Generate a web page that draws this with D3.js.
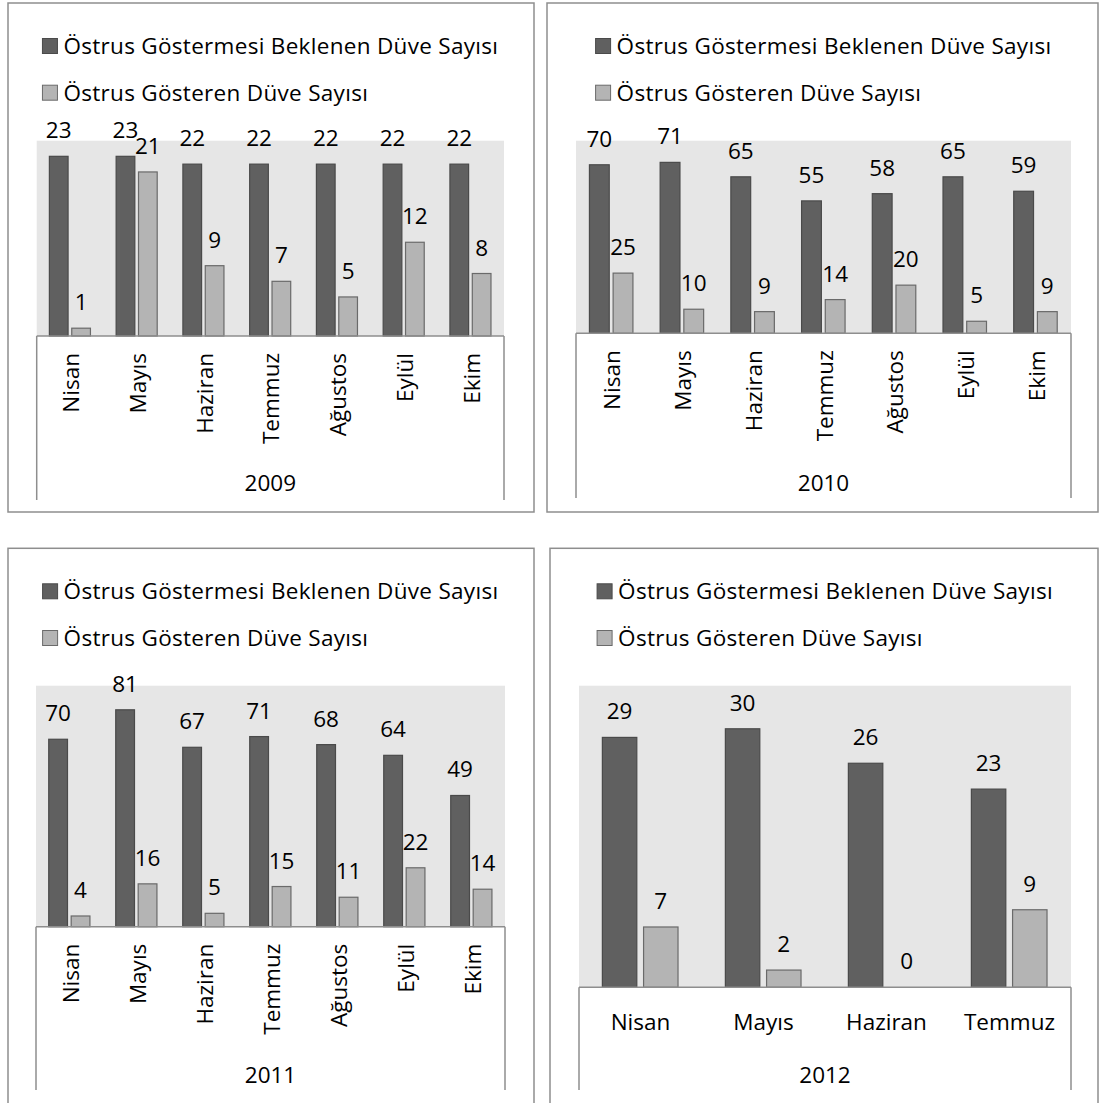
<!DOCTYPE html>
<html>
<head>
<meta charset="utf-8">
<script src="https://cdn.jsdelivr.net/npm/d3@7"></script>
<style>
    html, body { margin: 0; padding: 0; background: #fff; }
    svg { display: block; font-family: 'Open Sans', 'Noto Sans', sans-serif; }
    .lbl { font-size: 22.5px; fill: #000; }
</style>
</head>
<body>
<svg id="chart" width="1101" height="1103"></svg>
<script>
// === DATA ===

const SERIES = ['Östrus Göstermesi Beklenen Düve Sayısı', 'Östrus Gösteren Düve Sayısı'];

const MONTHS_7 = ['Nisan', 'Mayıs', 'Haziran', 'Temmuz', 'Ağustos', 'Eylül', 'Ekim'];
const MONTHS_4 = ['Nisan', 'Mayıs', 'Haziran', 'Temmuz'];

const EXPECTED_2009 = [23, 23, 22, 22, 22, 22, 22];
const SHOWN_2009    = [1, 21, 9, 7, 5, 12, 8];

const EXPECTED_2010 = [70, 71, 65, 55, 58, 65, 59];
const SHOWN_2010    = [25, 10, 9, 14, 20, 5, 9];

const EXPECTED_2011 = [70, 81, 67, 71, 68, 64, 49];
const SHOWN_2011    = [4, 16, 5, 15, 11, 22, 14];

const EXPECTED_2012 = [29, 30, 26, 23];
const SHOWN_2012    = [7, 2, 0, 9];

// === STYLE ===

const DARK = '#606060', DARK_STROKE = '#4a4a4a';
const LIGHT = '#b4b4b4', LIGHT_STROKE = '#6a6a6a';
const PLOT_BG = '#e6e6e6';
const LINE = '#8e8e8e';

// === PANEL LAYOUT ===

const panels = [
    { year: '2009', months: MONTHS_7, expected: EXPECTED_2009, shown: SHOWN_2009, yMax: 25,
      box: [8, 3, 534, 512], plot: [36.7, 504, 140.7, 336], axisBottom: 500, yearY: 483, rotated: true },
    { year: '2010', months: MONTHS_7, expected: EXPECTED_2010, shown: SHOWN_2010, yMax: 80,
      box: [547, 3, 1098, 512], plot: [576, 1071, 140.7, 333.3], axisBottom: 498, yearY: 483, rotated: true },
    { year: '2011', months: MONTHS_7, expected: EXPECTED_2011, shown: SHOWN_2011, yMax: 90,
      box: [8, 548.3, 534, 1120], plot: [36, 505, 685.7, 926.7], axisBottom: 1090, yearY: 1075, rotated: true },
    { year: '2012', months: MONTHS_4, expected: EXPECTED_2012, shown: SHOWN_2012, yMax: 35,
      box: [550, 548.3, 1098, 1120], plot: [579, 1071, 685.7, 987.3], axisBottom: 1090, yearY: 1075, rotated: false }
];

const svg = d3.select('#chart');

panels.forEach(drawPanel);

function drawPanel(p) {
    const [bx0, by0, bx1, by1] = p.box;
    const [px0, px1, ptop, pbase] = p.plot;
    const g = svg.append('g');

    // outer frame
    g.append('rect')
        .attr('x', bx0).attr('y', by0)
        .attr('width', bx1 - bx0).attr('height', by1 - by0)
        .attr('fill', '#fff').attr('stroke', LINE).attr('stroke-width', 1.5);

    // legend, centred over the plot
    const legend = g.append('g');
    const rows = [by0 + 43, by0 + 89.7];
    SERIES.forEach((name, i) => {
        legend.append('rect')
            .attr('x', 0).attr('y', rows[i] - 7.5)
            .attr('width', 15).attr('height', 15)
            .attr('fill', i === 0 ? DARK : LIGHT)
            .attr('stroke', i === 0 ? DARK_STROKE : LIGHT_STROKE);
        legend.append('text')
            .attr('class', 'lbl')
            .attr('x', 21).attr('y', rows[i]).attr('dy', '0.36em')
            .style('letter-spacing', '0.3px')
            .text(name);
    });
    const lw = legend.node().getBBox().width;
    legend.attr('transform', `translate(${(px0 + px1) / 2 - lw / 2}, 0)`);

    // plot area
    g.append('rect')
        .attr('x', px0).attr('y', ptop)
        .attr('width', px1 - px0).attr('height', pbase - ptop)
        .attr('fill', PLOT_BG);

    const x = d3.scaleBand().domain(p.months).range([px0, px1]).paddingInner(0).paddingOuter(0);
    const y = d3.scaleLinear().domain([0, p.yMax]).range([pbase, ptop]);

    const bw = x.bandwidth() * 0.28;
    const gap = x.bandwidth() * 0.055;
    const off = x.bandwidth() * 0.19;

    const series = [
        { values: p.expected, fill: DARK, stroke: DARK_STROKE, dx: off },
        { values: p.shown, fill: LIGHT, stroke: LIGHT_STROKE, dx: off + bw + gap }
    ];

    series.forEach(s => {
        const data = p.months.map((m, i) => ({ m, v: s.values[i] }));
        g.selectAll(null).data(data).join('rect')
            .attr('x', d => x(d.m) + s.dx)
            .attr('y', d => y(d.v))
            .attr('width', bw)
            .attr('height', d => y(0) - y(d.v))
            .attr('fill', s.fill)
            .attr('stroke', d => d.v > 0 ? s.stroke : 'none')
            .attr('stroke-width', 1.2);

        g.selectAll(null).data(data).join('text')
            .attr('class', 'lbl')
            .attr('x', d => x(d.m) + s.dx + bw / 2)
            .attr('y', d => y(d.v) - 18)
            .attr('text-anchor', 'middle')
            .text(d => d.v);
    });

    // category axis box (two levels: month, year)
    const axis = g.append('g').attr('fill', 'none').attr('stroke', LINE).attr('stroke-width', 1.5);
    axis.append('line').attr('x1', px0).attr('x2', px1).attr('y1', pbase).attr('y2', pbase);
    axis.append('line').attr('x1', px0).attr('x2', px0).attr('y1', pbase).attr('y2', p.axisBottom);
    axis.append('line').attr('x1', px1).attr('x2', px1).attr('y1', pbase).attr('y2', p.axisBottom);

    if (p.rotated) {
        g.selectAll(null).data(p.months).join('text')
            .attr('class', 'lbl')
            .attr('transform', d => `translate(${x(d) + x.bandwidth() / 2 + 1}, ${pbase + 17}) rotate(-90)`)
            .attr('text-anchor', 'end')
            .attr('dy', '0.36em')
            .text(d => d);
    } else {
        g.selectAll(null).data(p.months).join('text')
            .attr('class', 'lbl')
            .attr('x', d => x(d) + x.bandwidth() / 2)
            .attr('y', pbase + 34.5)
            .attr('dy', '0.36em')
            .attr('text-anchor', 'middle')
            .text(d => d);
    }

    g.append('text')
        .attr('class', 'lbl')
        .attr('x', (px0 + px1) / 2)
        .attr('y', p.yearY)
        .attr('dy', '0.36em')
        .attr('text-anchor', 'middle')
        .text(p.year);
}
</script>
</body>
</html>
